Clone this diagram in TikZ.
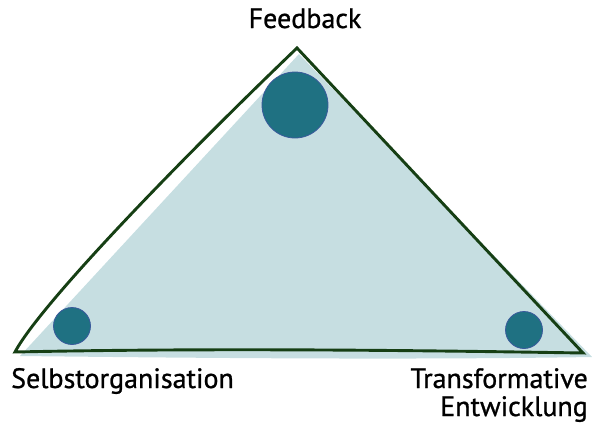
\documentclass[tikz,border=0pt]{standalone}
\usepackage{fontspec}
\setmainfont{PT Sans}
\newfontfamily\lblfont[RawFeature={embolden=0.9}]{PT Sans}
\begin{document}
\begin{tikzpicture}[x=1bp,y=-1bp,
  outline/.style={draw=edgegreen,line width=2.9bp,line join=miter},
  area/.style={fill=paleblue},
  dot/.style={circle,fill=teal70,draw=blue60,line width=0.8bp,inner sep=0pt},
  lbl/.style={font=\lblfont\fontsize{28bp}{33bp}\selectfont,text=black,inner sep=0pt}]
\definecolor{edgegreen}{HTML}{163F14}
\definecolor{paleblue}{HTML}{C6DEE1}
\definecolor{teal70}{HTML}{1F7182}
\definecolor{blue60}{HTML}{3A5A9C}
\useasboundingbox (0,0) rectangle (593,423);
% shaded triangle, set slightly off the outline
\fill[area] (299,54) -- (592,357) .. controls (400,360) and (200,358) .. (20,356) -- cycle;
% hand-drawn outline
\coordinate (top) at (297,48);
\coordinate (left) at (15,352);
\coordinate (right) at (583,353);
\draw[outline] (left) .. controls (40,305) and (175,165) .. (top) -- (right)
  .. controls (400,350) and (200,348) .. cycle;
% corner dots
\node[dot,minimum size=66bp] (fb) at (295,105) {};
\node[dot,minimum size=37bp] (so) at (72,326) {};
\node[dot,minimum size=37bp] (te) at (524,330) {};
% corner labels
\node[lbl,anchor=base] (tfb) at (305,28) {Feedback};
\node[lbl,anchor=base west] (tso) at (11,388) {Selbstorganisation};
\node[lbl,anchor=base east] (tte1) at (588,388) {Transformative};
\node[lbl,anchor=base east] (tte2) at (588,416) {Entwicklung};
\end{tikzpicture}
\end{document}
